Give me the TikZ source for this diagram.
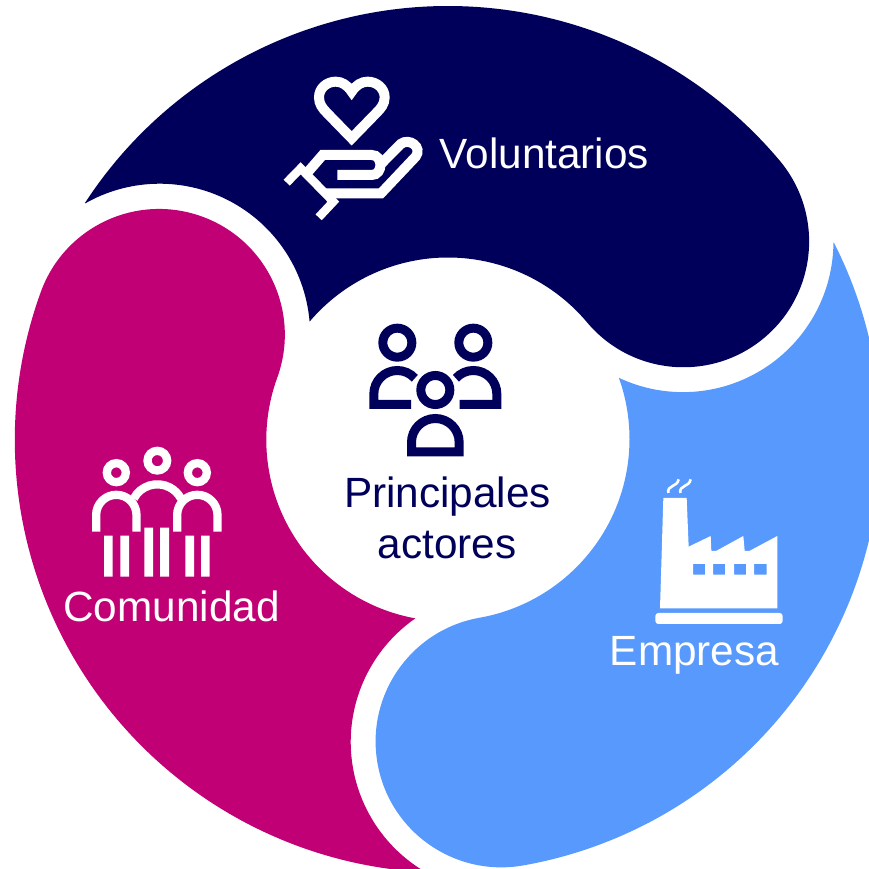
\documentclass[tikz,border=0pt]{standalone}
\usepackage{fontspec}
\setmainfont{Liberation Sans}
\definecolor{navy}{HTML}{00005A}
\definecolor{magen}{HTML}{C20076}
\definecolor{skyb}{HTML}{5799FD}
\newcommand{\petalpath}{(146.98:433pt) arc[start angle=146.98,end angle=40,radius=433pt] arc[start angle=40,end angle=-140,radius=125.75pt] arc[start angle=40,end angle=139.7,radius=181.5pt] arc[start angle=4.8,end angle=119.6,radius=150.5pt] -- cycle}
\tikzset{
  lbl/.style={inner sep=0pt,anchor=base,font=\fontsize{42.3}{50}\selectfont},
  icon/.style={line width=#1,line join=miter,line cap=butt},
  zoomed/.style={xscale=1/3,yscale=-1/3}
}
\begin{document}
\begin{tikzpicture}[x=1pt,y=1pt]
\useasboundingbox (0,0) rectangle (869,868);
\clip (0,0) rectangle (869,868);
\begin{scope}[shift={(448,429)}]
  \fill[navy] \petalpath;
  \fill[magen,rotate=120,xshift=-0.6pt,yshift=0.6pt] \petalpath;
  \fill[skyb,rotate=240] \petalpath;
\end{scope}
% heart and hand
\begin{scope}[shift={(270,808)},zoomed]
  \draw[white,icon=10pt] (245,95) .. controls (232,75) and (215,65) .. (197,65) .. controls (170,65) and (147,85) .. (147,112) .. controls (147,132) and (157,145) .. (172,160) -- (245,235) -- (318,160) .. controls (333,145) and (344,132) .. (344,112) .. controls (344,85) and (320,65) .. (293,65) .. controls (275,65) and (258,75) .. (245,95) -- cycle;
  \draw[white,icon=10pt] (112,338) -- (158,285) -- (305,285) .. controls (340,285) and (340,345) .. (305,345) -- (202,345);
  \draw[white,icon=10pt] (165,400) -- (333,400) -- (437,290) .. controls (458,262) and (418,232) .. (392,252) -- (330,315);
  \draw[white,icon=8.5pt] (50,368) -- (92,325) -- (190,425) -- (146,472);
\end{scope}
% people
\begin{scope}[shift={(350,558)},zoomed]
  \draw[navy,icon=9pt] (142,98) circle[radius=43.5];
  \draw[navy,icon=9pt] (370,98) circle[radius=43.5];
  \draw[navy,icon=9pt] (256,240) circle[radius=43.5];
  \draw[navy,icon=9pt] (183,283.5) -- (71.5,283.5) -- (71.5,252) arc[start angle=180,end angle=318,radius=70.5];
  \draw[navy,icon=9pt] (329,283.5) -- (440.5,283.5) -- (440.5,252) arc[start angle=360,end angle=222,radius=70.5];
  \draw[navy,icon=9pt] (184.5,425.5) -- (184.5,397) arc[start angle=180,end angle=360,radius=71.5] -- (327.5,425.5) -- cycle;
\end{scope}
% community
\begin{scope}[shift={(80,428)},zoomed]
  \draw[white,icon=8.3pt] (232,62) circle[radius=29.5];
  \draw[white,icon=8.3pt] (109,98) circle[radius=28.5];
  \draw[white,icon=8.3pt] (352,98) circle[radius=28.5];
  \draw[white,icon=8.3pt] (48.5,275) -- (48.5,225) arc[start angle=180,end angle=360,radius=60.5] -- (169.5,275);
  \draw[white,icon=8.3pt] (291.5,275) -- (291.5,225) arc[start angle=180,end angle=360,radius=60.5] -- (412.5,275);
  \draw[white,icon=8.3pt] (232,213) ++(208:80) arc[start angle=208,end angle=332,radius=80];
  \fill[white] (72,287) rectangle (98,410) (121,287) rectangle (147,410);
  \fill[white] (193,263) rectangle (219,410) (240,263) rectangle (267,410);
  \fill[white] (316,287) rectangle (342,410) (363,287) rectangle (389,410);
\end{scope}
% factory
\begin{scope}[shift={(640,398)},zoomed]
  \fill[white,even odd rule] (70,84) -- (140,84) -- (146,230) -- (212,198) -- (214,243) -- (228,243) -- (310,198) -- (314,243) -- (328,243) -- (412,198) -- (412,415) -- (60,415) -- cycle
    (159,282) rectangle (195,314) (219,282) rectangle (255,314) (282,282) rectangle (318,314) (342,282) rectangle (380,314);
  \fill[white,rounded corners=3] (46,429) rectangle (428,462);
  \draw[white,line width=2.6pt] (85,69) .. controls (80,45) and (112,52) .. (116,28);
  \draw[white,line width=2.6pt] (121,69) .. controls (116,45) and (148,52) .. (152,28);
\end{scope}
\node[lbl,text=white,anchor=base west] (vol) at (439.5,699) {Voluntarios};
\node[lbl,text=navy] (pri) at (447.5,361) {Principales};
\node[lbl,text=navy] (act) at (447,310) {actores};
\node[lbl,text=white] (com) at (171.5,247) {Comunidad};
\node[lbl,text=white] (emp) at (694.5,203) {Empresa};
\end{tikzpicture}
\end{document}
